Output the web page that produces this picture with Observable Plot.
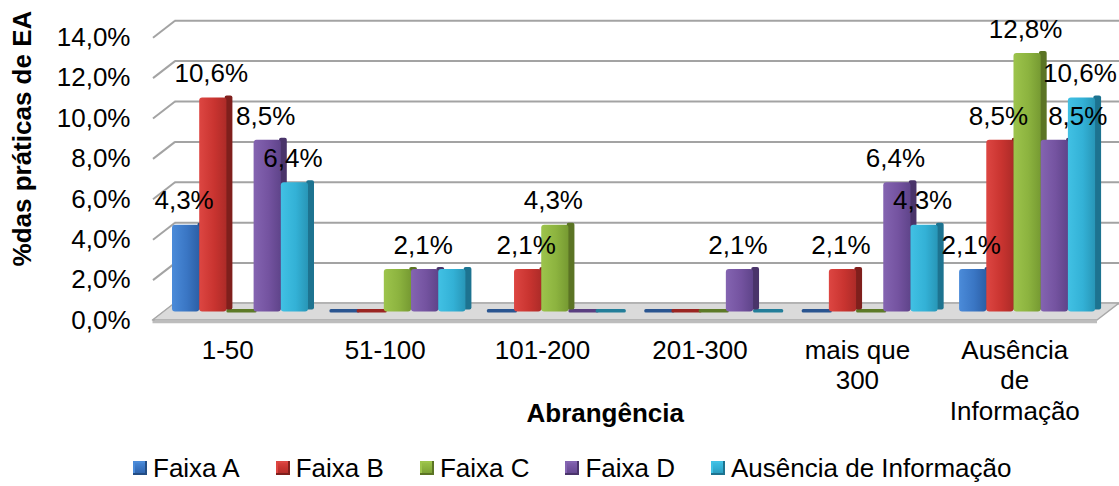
<!DOCTYPE html>
<html><head><meta charset="utf-8">
<script src="https://cdn.jsdelivr.net/npm/d3@7"></script>
<script src="https://cdn.jsdelivr.net/npm/@observablehq/plot@0.6"></script>
<style>
body{margin:0;background:#fff;font-family:"Liberation Sans",Arial,sans-serif;}
#legend{display:flex;align-items:center;height:36px;padding-top:10px;padding-left:133px;font-size:26px;color:#000;}
.item{display:flex;align-items:center;margin-right:36px;white-space:nowrap;}
.sw{width:14px;height:14px;margin-right:6px;box-sizing:border-box;}
</style></head><body><div id="chart"></div><div id="legend"></div>
<script>
// ---- data ----
const categories = ["1-50","51-100","101-200","201-300","mais que 300","Ausência de Informação"];
const categoryLabels = ["1-50","51-100","101-200","201-300","mais que\n300","Ausência\nde\nInformação"];
const series = ["Faixa A","Faixa B","Faixa C","Faixa D","Ausência de Informação"];
const faixaA   = [4.3, 0,   0,   0,   0,   2.1];
const faixaB   = [10.6,0,   2.1, 0,   2.1, 8.5];
const faixaC   = [0,   2.1, 4.3, 0,   0,   12.8];
const faixaD   = [8.5, 2.1, 0,   2.1, 6.4, 8.5];
const ausencia = [6.4, 2.1, 0,   0,   4.3, 10.6];
const yTicks = [0,2,4,6,8,10,12,14];
const hiddenLabels = [["51-100","Faixa C"],["51-100","Ausência de Informação"]];
const xTitle = "Abrangência";
const yTitle = "%das práticas de EA";

// ---- style ----
const palette = [
  {light:"#4b8bd9", base:"#3a76c4", dark:"#2c5fa6", side:"#234d84", flat:"#2a5590"},
  {light:"#dd4642", base:"#c93430", dark:"#ad2b28", side:"#7f1f1c", flat:"#9a2522"},
  {light:"#9dc44c", base:"#8cb33f", dark:"#769a32", side:"#5b7424", flat:"#5d7a27"},
  {light:"#8464b1", base:"#7453a0", dark:"#5f448a", side:"#4a346a", flat:"#5a3f80"},
  {light:"#41c1e4", base:"#33b1d6", dark:"#2896b7", side:"#1d7390", flat:"#237e99"}
];
const values = [faixaA, faixaB, faixaC, faixaD, ausencia];
const W = 1119, H = 440;
const leftX = 163.5, rightEnd = 1108, topY = 28.7, baseY = 311.5;
const groupPx = (rightEnd - leftX) / categories.length;
const kx = 1 / groupPx, ky = 14 / (baseY - topY);
const DX = 11, DY = 8.5;
const PAD = 8.5 * kx, PITCH = 27.2 * kx, SIDE = 6 * kx;
const FONT = "Liberation Sans, Arial, sans-serif";
const FS = 26;
const fmt = v => d3.format(".1f")(v).replace(".", ",") + "%";

const rows = categories.flatMap((c, i) => series.map((s, j) => {
  const x1 = i + PAD + j * PITCH;
  return {cat: c, i, s, j, v: values[j][i], x1, x2: x1 + PITCH};
}));
const isHidden = d => hiddenLabels.some(([c, s]) => c === d.cat && s === d.s);
const labelRows = rows.filter(d => d.v > 0 && !isHidden(d));
const shifted = d => d.cat === "Ausência de Informação" && d.s === "Faixa D";

function gradientDefs() {
  const defs = d3.create("svg:defs");
  palette.forEach((p, j) => {
    const g = defs.append("linearGradient").attr("id", "g" + j)
      .attr("x1", 0).attr("x2", 1).attr("y1", 0).attr("y2", 0);
    g.append("stop").attr("offset", "0%").attr("stop-color", p.light);
    g.append("stop").attr("offset", "55%").attr("stop-color", p.base);
    g.append("stop").attr("offset", "100%").attr("stop-color", p.dark);
  });
  return defs.node();
}

const floorPts = [
  {y: -DY * ky, x1: -DX * kx, x2: categories.length - DX * kx},
  {y:  DY * ky, x1:  DX * kx, x2: categories.length + DX * kx}
];

const chart = Plot.plot({
  width: W, height: H,
  marginLeft: leftX, marginRight: W - rightEnd, marginTop: topY, marginBottom: H - baseY,
  x: {type: "linear", domain: [0, categories.length], axis: null},
  y: {type: "linear", domain: [0, 14], axis: null},
  style: {fontFamily: FONT, background: "#fff", color: "#000"},
  marks: [
    gradientDefs,
    Plot.ruleY(yTicks, {y: d => d, x1: 0, x2: categories.length + 0.2, dx: DX, dy: -DY, stroke: "#a3a3a3", strokeWidth: 2}),
    Plot.link(yTicks, {x1: -DX * kx, y1: d => d - DY * ky, x2: DX * kx, y2: d => d + DY * ky, stroke: "#a3a3a3", strokeWidth: 2}),
    Plot.areaX(floorPts, {y: "y", x1: "x1", x2: "x2", fill: "#dadada", stroke: "#a8a8a8", strokeWidth: 1.5}),
    Plot.ruleY([0], {x1: -DX * kx, x2: categories.length - DX * kx, dy: DY + 1.5, stroke: "#bdbdbd", strokeWidth: 2.5}),
    Plot.rect(rows.filter(d => d.v === 0), {x1: "x1", x2: d => d.x2 + SIDE * 0.5, y1: 0, y2: 3.5 * ky, dy: 1, fill: d => palette[d.j].flat, rx: 1.5}),
    Plot.rect(rows.filter(d => d.v > 0), {x1: d => d.x2 - SIDE * 0.3, x2: d => d.x2 + SIDE, y1: 0, y2: "v", dy: -2, fill: d => palette[d.j].side, rx: 2}),
    Plot.rect(rows.filter(d => d.v > 0), {x1: "x1", x2: "x2", y1: 0, y2: "v", fill: d => `url(#g${d.j})`, rx: 3}),
    Plot.text(labelRows.filter(d => !shifted(d)), {x: d => (d.x1 + d.x2) / 2, y: "v", text: d => fmt(d.v), dx: -2, dy: -24, fontSize: FS, fill: "#000"}),
    Plot.text(labelRows.filter(shifted), {x: d => (d.x1 + d.x2) / 2, y: "v", text: d => fmt(d.v), dx: 23, dy: -24, fontSize: FS, fill: "#000"}),
    Plot.text(yTicks, {x: 0, y: d => d, text: d => fmt(d), textAnchor: "end", dx: 130 - leftX, dy: DY, fontSize: FS, fill: "#000"}),
    Plot.text(categoryLabels, {x: (d, i) => i + 0.5, y: 0, text: d => d, lineAnchor: "top", lineHeight: 1.18, dx: -15, dy: 25, fontSize: FS, fill: "#000"}),
    Plot.text([xTitle], {frameAnchor: "bottom", text: d => d, dx: -31, dy: 110, fontSize: FS, fontWeight: "bold", fill: "#000"}),
    Plot.text([yTitle], {frameAnchor: "left", text: d => d, rotate: -90, textAnchor: "middle", dx: 22 - leftX, dy: -32, fontSize: FS, fontWeight: "bold", fill: "#000"})
  ]
});
document.getElementById("chart").appendChild(chart);

const legend = document.getElementById("legend");
series.forEach((s, j) => {
  const p = palette[j];
  const item = document.createElement("div");
  item.className = "item";
  const sw = document.createElement("div");
  sw.className = "sw";
  sw.style.background = `linear-gradient(180deg, ${p.light} 0%, ${p.base} 45%, ${p.dark} 100%)`;
  sw.style.boxShadow = `inset -2px -2px 0 ${p.side}, inset 2px 2px 0 ${p.light}`;
  const t = document.createElement("span");
  t.textContent = s;
  item.appendChild(sw); item.appendChild(t);
  legend.appendChild(item);
});
</script></body></html>
